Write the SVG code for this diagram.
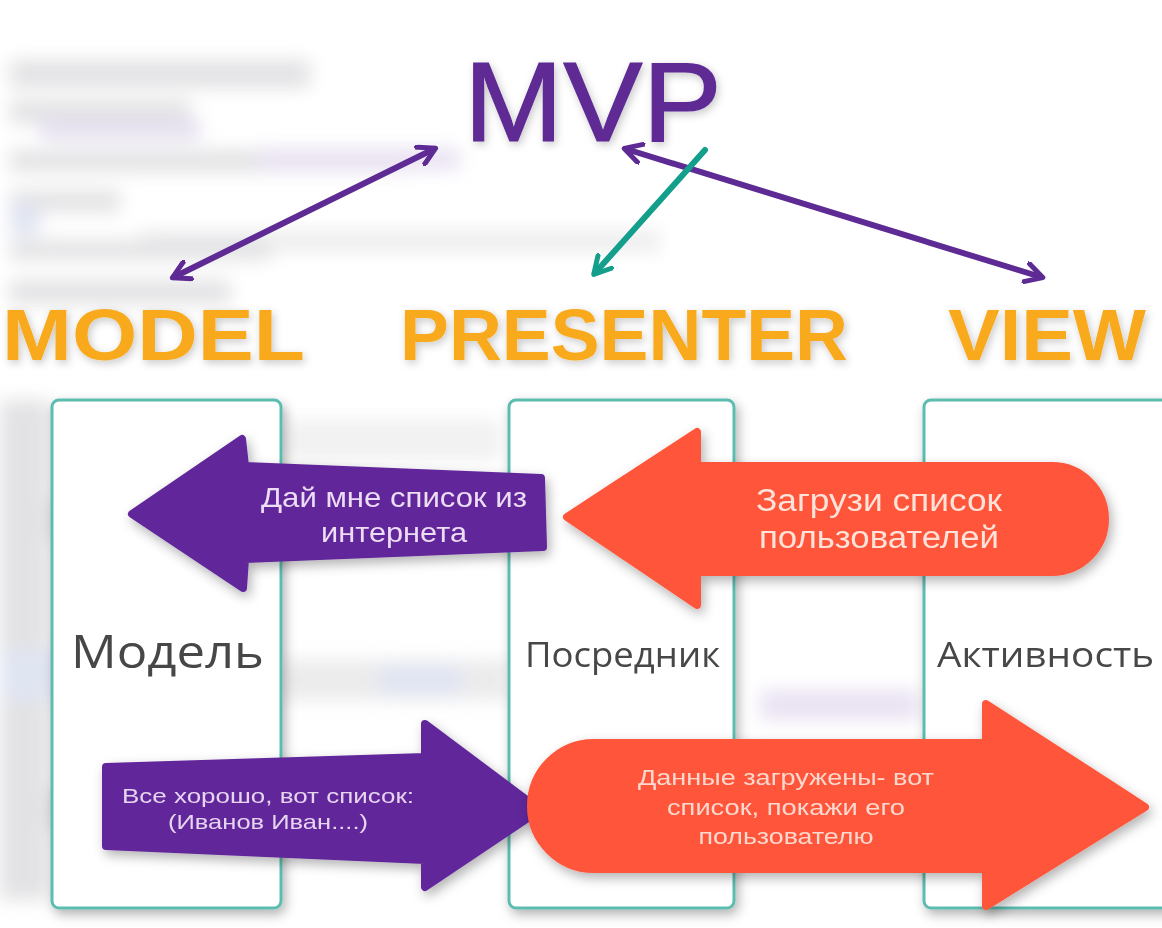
<svg xmlns="http://www.w3.org/2000/svg" width="1162" height="928" viewBox="0 0 1162 928">
<defs>
  <filter id="blur" x="-20%" y="-50%" width="140%" height="200%"><feGaussianBlur stdDeviation="9"/></filter>
  <filter id="shadow" x="-10%" y="-10%" width="130%" height="130%"><feDropShadow dx="3" dy="5" stdDeviation="6" flood-color="#000" flood-opacity="0.3"/></filter>
  <filter id="glow" x="-10%" y="-20%" width="120%" height="150%"><feDropShadow dx="2" dy="3" stdDeviation="4" flood-color="#000" flood-opacity="0.22"/></filter>
  <marker id="vheadP" viewBox="0 0 12 12" refX="9" refY="6" markerWidth="3.8" markerHeight="3.8" orient="auto-start-reverse" markerUnits="strokeWidth">
    <path d="M1,1 L10,6 L1,11" fill="none" stroke="#5e2a94" stroke-width="2.6" stroke-linecap="round" stroke-linejoin="round"/>
  </marker>
  <marker id="vheadT" viewBox="0 0 12 12" refX="9" refY="6" markerWidth="3.8" markerHeight="3.8" orient="auto" markerUnits="strokeWidth">
    <path d="M1,1 L10,6 L1,11" fill="none" stroke="#149e8c" stroke-width="2.6" stroke-linecap="round" stroke-linejoin="round"/>
  </marker>
</defs>
<style>
  .bg { fill: #d9d9dc; }
  .box { fill: #ffffff; stroke: #5dbcb0; stroke-width: 3; }
  .title { font-family: "Liberation Sans", Arial, sans-serif; font-weight: bold; fill: #f8a91c; }
  .lbl { font-family: "Open Sans", "DejaVu Sans", sans-serif; fill: #474747; }
  .atext { font-family: "Liberation Sans", Arial, sans-serif; text-anchor: middle; }
  .pur { fill: #61279a; stroke: #61279a; stroke-width: 8; stroke-linejoin: round; }
  .org { fill: #fe553a; stroke: #fe553a; stroke-width: 8; stroke-linejoin: round; }
  .conn { fill: none; stroke-width: 6; stroke-linecap: round; }
</style>
<rect x="0" y="0" width="1162" height="928" fill="#ffffff"/>
<g id="background" filter="url(#blur)" opacity="0.75">
  <rect class="bg" x="10" y="60" width="300" height="28"/>
  <rect class="bg" x="10" y="100" width="180" height="24"/>
  <rect x="40" y="118" width="160" height="22" fill="#ddd6ea"/>
  <rect class="bg" x="10" y="150" width="400" height="22"/>
  <rect x="260" y="148" width="200" height="22" fill="#e2d8ee"/>
  <rect class="bg" x="10" y="190" width="110" height="22"/>
  <rect x="10" y="205" width="30" height="30" fill="#d6dcee"/>
  <rect class="bg" x="10" y="240" width="260" height="20"/>
  <rect class="bg" x="140" y="230" width="520" height="22" opacity="0.6"/>
  <rect class="bg" x="10" y="280" width="220" height="24"/>
  <rect class="bg" x="0" y="400" width="50" height="500"/>
  <rect class="bg" x="280" y="420" width="220" height="40" opacity="0.5"/>
  <rect class="bg" x="280" y="660" width="230" height="40" opacity="0.7"/>
  <rect x="380" y="665" width="80" height="30" fill="#d6dcee"/>
  <rect class="bg" x="0" y="500" width="60" height="40"/>
  <rect x="0" y="650" width="60" height="50" fill="#d6dcee"/>
  <rect x="760" y="690" width="160" height="30" fill="#e2d8ee"/>
  <rect class="bg" x="0" y="790" width="80" height="40"/>
</g>

<g id="connectors">
  <line class="conn" x1="434" y1="149" x2="174" y2="277" stroke="#5e2a94" marker-start="url(#vheadP)" marker-end="url(#vheadP)"/>
  <line class="conn" x1="626" y1="149" x2="1041" y2="277" stroke="#5e2a94" marker-start="url(#vheadP)" marker-end="url(#vheadP)"/>
  <line class="conn" x1="705" y1="150" x2="595" y2="273" stroke="#149e8c" marker-end="url(#vheadT)"/>
</g>

<g id="mvp-title">
  <text x="593" y="141" font-family="Liberation Sans, Arial, sans-serif" font-size="114" fill="#5e2a94" stroke="#5e2a94" stroke-width="1.2" text-anchor="middle" textLength="258" lengthAdjust="spacingAndGlyphs" filter="url(#glow)">MVP</text>
</g>

<g id="model-title" filter="url(#glow)"><text class="title" x="2" y="360" font-size="72" textLength="303" lengthAdjust="spacingAndGlyphs">MODEL</text></g>
<g id="presenter-title" filter="url(#glow)"><text class="title" x="400" y="360" font-size="72" textLength="448" lengthAdjust="spacingAndGlyphs">PRESENTER</text></g>
<g id="view-title" filter="url(#glow)"><text class="title" x="948" y="360" font-size="72" textLength="198" lengthAdjust="spacingAndGlyphs">VIEW</text></g>

<g id="model-box">
  <rect class="box" x="52" y="400" width="229" height="508" rx="7" filter="url(#shadow)"/>
  <text class="lbl" x="71" y="668" font-size="46" textLength="193" lengthAdjust="spacingAndGlyphs">Модель</text>
</g>
<g id="presenter-box">
  <rect class="box" x="509" y="400" width="225" height="508" rx="7" filter="url(#shadow)"/>
  <text class="lbl" x="525" y="667" font-size="35" textLength="195" lengthAdjust="spacingAndGlyphs">Посредник</text>
</g>
<g id="view-box">
  <rect class="box" x="924" y="400" width="270" height="508" rx="7" filter="url(#shadow)"/>
  <text class="lbl" x="937" y="667" font-size="35" textLength="217" lengthAdjust="spacingAndGlyphs">Активность</text>
</g>

<g id="arrow-give-list" filter="url(#shadow)">
  <path class="pur" d="M132,514 L242,439 L245,466 L541,478 L543,547 L245,559 L243,588 Z"/>
  <text class="atext" x="394" y="507" font-size="28" fill="#ecdcf4" textLength="266" lengthAdjust="spacingAndGlyphs">Дай мне список из</text>
  <text class="atext" x="394" y="542" font-size="28" fill="#ecdcf4" textLength="146" lengthAdjust="spacingAndGlyphs">интернета</text>
</g>

<g id="arrow-load-users" filter="url(#shadow)">
  <path class="org" d="M567,517 L697,432 L697,466 L1052,466 A53,53 0 0 1 1052,572 L697,572 L697,605 Z"/>
  <text class="atext" x="879" y="511" font-size="31" fill="#fde3da" textLength="246" lengthAdjust="spacingAndGlyphs">Загрузи список</text>
  <text class="atext" x="879" y="548" font-size="31" fill="#fde3da" textLength="240" lengthAdjust="spacingAndGlyphs">пользователей</text>
</g>

<g id="arrow-all-good" filter="url(#shadow)">
  <path class="pur" d="M106,767 L425,757 L425,724 L540,810 L425,887 L425,860 L106,846 Z"/>
  <text class="atext" x="268" y="803" font-size="21" fill="#e6d4f0" textLength="292" lengthAdjust="spacingAndGlyphs">Все хорошо, вот список:</text>
  <text class="atext" x="268" y="829" font-size="21" fill="#e6d4f0" textLength="200" lengthAdjust="spacingAndGlyphs">(Иванов Иван....)</text>
</g>

<g id="arrow-data-loaded" filter="url(#shadow)">
  <path class="org" d="M594,743 L986,743 L986,704 L1145,807 L986,906 L986,869 L594,869 A63,63 0 0 1 594,743 Z"/>
  <text class="atext" x="786" y="785" font-size="22" fill="#fcd9cf" textLength="296" lengthAdjust="spacingAndGlyphs">Данные загружены- вот</text>
  <text class="atext" x="786" y="815" font-size="22" fill="#fcd9cf" textLength="238" lengthAdjust="spacingAndGlyphs">список, покажи его</text>
  <text class="atext" x="786" y="844" font-size="22" fill="#fcd9cf" textLength="175" lengthAdjust="spacingAndGlyphs">пользователю</text>
</g>
</svg>
